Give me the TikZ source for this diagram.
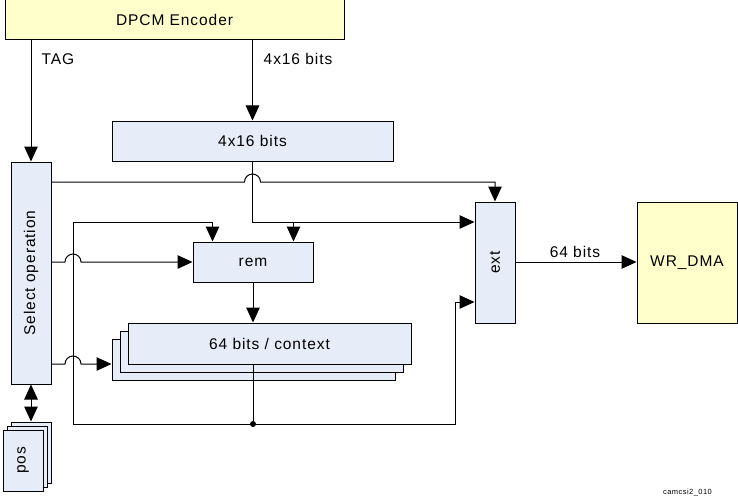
\documentclass[tikz,border=0pt]{standalone}
\usepackage{fontspec}
\setmainfont{Liberation Sans}[LetterSpace=6]
\usetikzlibrary{arrows.meta,calc}
\definecolor{boxblue}{RGB}{230,236,248}
\definecolor{boxyellow}{RGB}{255,255,204}
\begin{document}
\begin{tikzpicture}[x=1pt,y=-1pt,font=\fontsize{15.5}{18}\selectfont]
\tikzset{
  blk/.style 2 args={draw=black, fill=boxblue, line width=1pt, inner sep=0pt, minimum width=#1, minimum height=#2},
  yblk/.style 2 args={blk={#1}{#2}, fill=boxyellow},
  arr/.style={-{Triangle[length=15pt,width=13.5pt]}, line width=1pt},
  darr/.style={{Triangle[length=15pt,width=13.5pt]}-{Triangle[length=15pt,width=13.5pt]}, line width=1pt},
  ln/.style={line width=1pt},
  lbl/.style={inner sep=0pt}
}
\useasboundingbox (0,0) rectangle (738,500);
% blocks
\node[yblk={339pt}{40pt}] (enc) at (174.5,20) {DPCM Encoder};
\node[blk={281pt}{40pt}] (b416) at (252.5,141) {4x16 bits};
\node[blk={40pt}{222pt}] (sel) at (31,273) {};
\node[lbl,rotate=90] (seltxt) at (sel.center) {Select operation};
\node[blk={40pt}{121pt}] (ext) at (495,262.5) {};
\node[lbl,rotate=90] (exttxt) at (ext.center) {ext};
\node[blk={120pt}{40pt}] (rem) at (253,262) {rem};
\node[blk={283pt}{41pt}] (ctx3) at (253.5,359.5) {};
\node[blk={283pt}{41pt}] (ctx2) at (261.5,351.5) {};
\node[blk={283pt}{41pt}] (ctx) at (269.5,343.5) {64 bits / context};
\node[yblk={100pt}{121pt}] (wr) at (687,262.5) {WR\_DMA};
\node[blk={40pt}{61pt}] (pos3) at (31,452.5) {};
\node[blk={40pt}{61pt}] (pos2) at (27,456.5) {};
\node[blk={40pt}{61pt}] (pos) at (23,460.5) {};
\node[lbl,rotate=90] (postxt) at (pos.center) {pos};
% labels
\node[lbl] (tag) at (58,59) {TAG};
\node[lbl] (l416) at (298,59) {4x16 bits};
\node[lbl] (l64) at (575,252) {64 bits};
\node[lbl,font=\fontsize{7.5}{9}\selectfont] (code) at (687.5,493) {camcsi2\_010};
% coordinates
\coordinate (vl) at (73,222);
\coordinate (vlL) at (65,222);
\coordinate (vb) at (73,424);
\coordinate (dot) at (rem.south |- vb);
\coordinate (cr) at (455,424);
\coordinate (crT) at (455,302);
\coordinate (remin1) at ([xshift=20pt]rem.north west);
\coordinate (remin2) at ([xshift=-20pt]rem.north east);
\coordinate (topy) at (0,182);
\coordinate (hopT) at ($(b416.south |- topy)+(-8,0)$);
\coordinate (ctxy) at (0,364);
% connectors
\draw[arr] (sel.north |- enc.south) -- (sel.north);
\draw[arr] (b416.north |- enc.south) -- (b416.north);
\draw[arr] (sel.east |- topy) -- (hopT) arc[start angle=180,end angle=0,radius=8pt] -- (ext.north |- topy) -- (ext.north);
\draw[arr] (b416.south) -- (b416.south |- vl) -- (ext.west |- vl);
\draw[arr] (remin2 |- vl) -- (remin2);
\draw[arr] (sel.east |- rem.west) -- (vlL |- rem.west) arc[start angle=180,end angle=0,radius=8pt] -- (rem.west);
\draw[arr] (sel.east |- ctxy) -- (vlL |- ctxy) arc[start angle=180,end angle=0,radius=8pt] -- (ctx3.west |- ctxy);
\draw[arr] (rem.south) -- (rem.south |- ctx.north);
\draw[ln] (rem.south |- ctx.south) -- (dot);
\fill (dot) circle[radius=3pt];
\draw[arr] (dot) -- (vb) -- (vl) -- (remin1 |- vl) -- (remin1);
\draw[arr] (dot) -- (cr) -- (crT) -- (ext.west |- crT);
\draw[arr] (ext.east |- rem.west) -- (wr.west |- rem.west);
\draw[darr] (sel.south) -- (pos3.north);
\end{tikzpicture}
\end{document}
